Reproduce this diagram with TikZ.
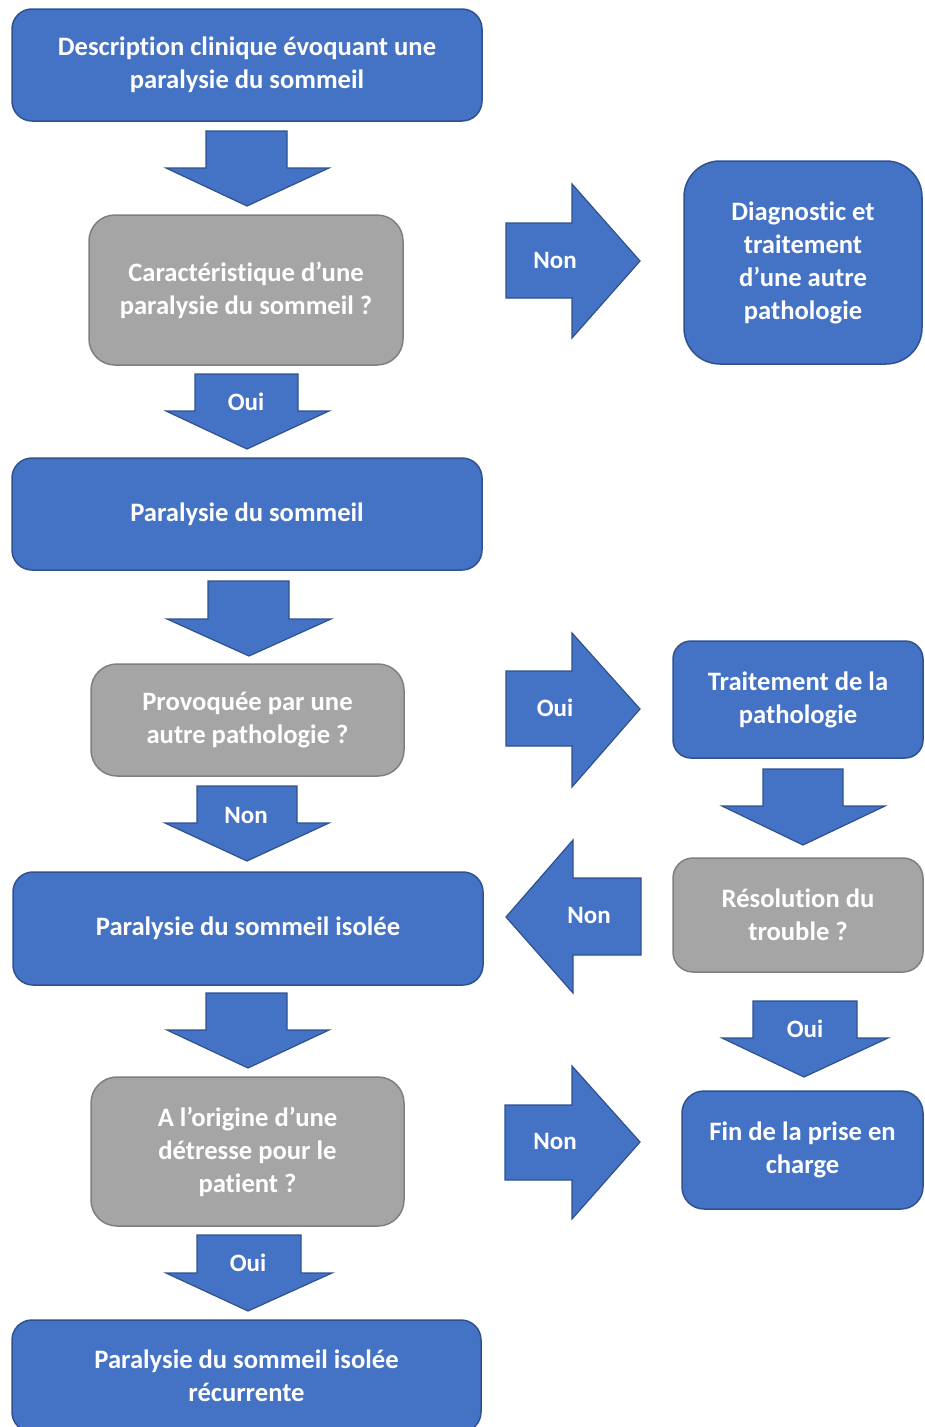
\documentclass[tikz,border=0pt]{standalone}
\usepackage{fontspec}
\setmainfont{Carlito}[Ligatures=NoCommon]
\definecolor{bfill}{HTML}{4472C4}
\definecolor{bline}{HTML}{2F528F}
\definecolor{gfill}{HTML}{A5A5A5}
\definecolor{gline}{HTML}{7F7F7F}
\begin{document}
\begin{tikzpicture}[x=1pt,y=-1pt,
  box/.style={draw, line width=1.5pt, rounded corners=20pt, text=white,
    font=\bfseries\fontsize{26.6}{33}\selectfont, align=center,
    inner sep=0pt, outer sep=0pt},
  bluebox/.style={box, fill=bfill, draw=bline},
  graybox/.style={box, fill=gfill, draw=gline, rounded corners=26pt},
  barrow/.style={fill=bfill, draw=bline, line width=1.2pt, line join=miter},
  alabel/.style={text=white, font=\bfseries\fontsize{25}{28}\selectfont, inner sep=0pt}]
\path[use as bounding box, fill=white] (0,0) rectangle (924,1427);
\clip (0,0) rectangle (924,1427);

% boxes
\node[bluebox, minimum width=470pt, minimum height=112pt] (b1) at (247,65)
  {Description clinique évoquant une\\paralysie du sommeil};
\node[graybox, minimum width=314pt, minimum height=150pt] (b2) at (246,290)
  {Caractéristique d’une\\paralysie du sommeil ?};
\node[bluebox, rounded corners=36pt, minimum width=238pt, minimum height=203pt] (bd) at (803,262.5)
  {Diagnostic et\\traitement\\d’une autre\\pathologie};
\node[bluebox, minimum width=470pt, minimum height=112pt] (b3) at (247,514)
  {Paralysie du sommeil};
\node[graybox, minimum width=313pt, minimum height=112pt] (b4) at (247.5,720)
  {Provoquée par une\\autre pathologie ?};
\node[bluebox, rounded corners=18pt, minimum width=250pt, minimum height=117pt] (bt) at (798,699.5)
  {Traitement de la\\pathologie};
\node[graybox, rounded corners=20pt, minimum width=250pt, minimum height=114pt] (br) at (798,915)
  {Résolution du\\trouble ?};
\node[bluebox, minimum width=470pt, minimum height=113pt] (b5) at (248,928.5)
  {Paralysie du sommeil isolée};
\node[graybox, minimum width=313pt, minimum height=149pt] (b6) at (247.5,1151.5)
  {A l’origine d’une\\détresse pour le\\patient ?};
\node[bluebox, rounded corners=22pt, minimum width=241pt, minimum height=118pt] (bf) at (802.5,1150)
  {Fin de la prise en\\charge};
\node[bluebox, minimum width=469pt, minimum height=112pt] (b7) at (246.5,1376)
  {Paralysie du sommeil isolée\\récurrente};

% block arrows
\draw[barrow] (206,131)--(287,131)--(287,168)--(329,168)--(247,206)--(166,168)--(206,168)--cycle;
\draw[barrow] (506,223)--(572,223)--(572,184)--(640,261)--(572,338)--(572,298)--(506,298)--cycle;
\node[alabel] (l1) at (555,260) {Non};
\draw[barrow] (195,374)--(298,374)--(298,411)--(329,411)--(247,449)--(166,411)--(195,411)--cycle;
\node[alabel] (l2) at (246,402) {Oui};
\draw[barrow] (208,581)--(289,581)--(289,619)--(331,619)--(249,656)--(167,619)--(208,619)--cycle;
\draw[barrow] (506,671)--(572,671)--(572,633)--(640,709)--(572,787)--(572,746)--(506,746)--cycle;
\node[alabel] (l3) at (555,708) {Oui};
\draw[barrow] (763,769)--(843,769)--(843,806)--(885,806)--(803,845)--(722,806)--(763,806)--cycle;
\draw[barrow] (197,786)--(297,786)--(297,823)--(329,823)--(247,861)--(165,823)--(197,823)--cycle;
\node[alabel] (l4) at (246,815) {Non};
\draw[barrow] (641,878)--(573,878)--(573,840)--(506,917)--(573,993)--(573,955)--(641,955)--cycle;
\node[alabel] (l5) at (589,915) {Non};
\draw[barrow] (206,993)--(287,993)--(287,1030)--(329,1030)--(248,1068)--(167,1030)--(206,1030)--cycle;
\draw[barrow] (505,1105)--(572,1105)--(572,1066)--(640,1142)--(572,1219)--(572,1180)--(505,1180)--cycle;
\node[alabel] (l6) at (555,1141) {Non};
\draw[barrow] (753,1001)--(857,1001)--(857,1038)--(888,1038)--(804,1077)--(722,1038)--(753,1038)--cycle;
\node[alabel] (l7) at (805,1029) {Oui};
\draw[barrow] (197,1235)--(301,1235)--(301,1273)--(332,1273)--(248,1311)--(166,1273)--(197,1273)--cycle;
\node[alabel] (l8) at (248,1263) {Oui};
\end{tikzpicture}
\end{document}
